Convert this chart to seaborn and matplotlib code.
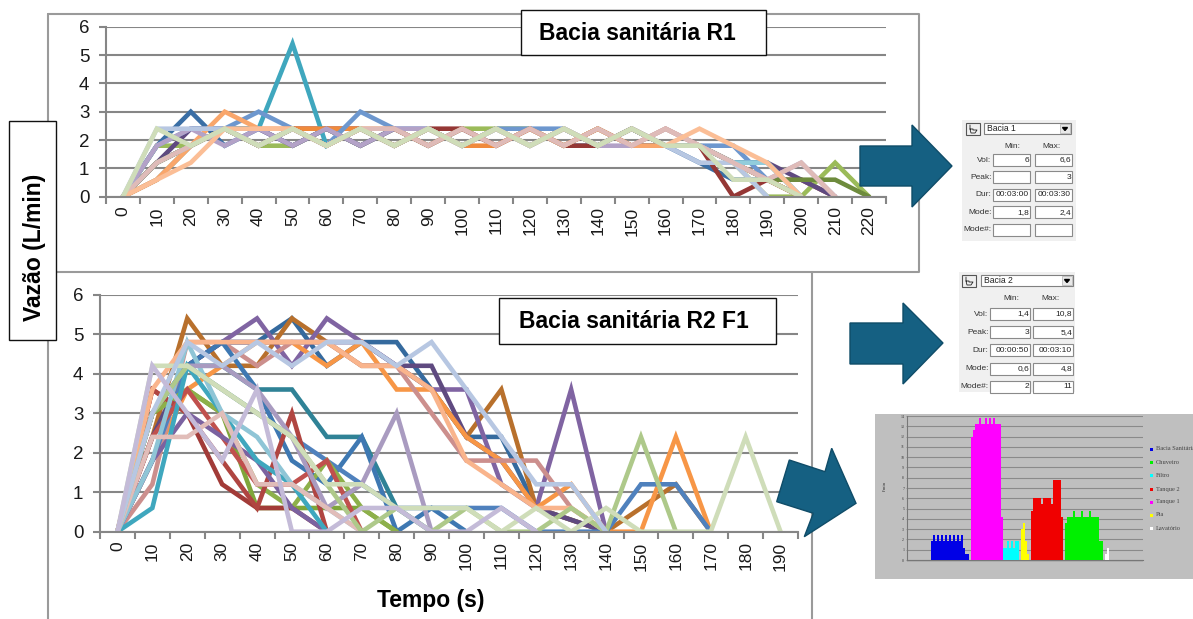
import matplotlib
matplotlib.use("Agg")
import matplotlib.pyplot as plt
from matplotlib.patches import Polygon, Rectangle
from matplotlib.ticker import FixedLocator, NullFormatter
import pandas as pd
import seaborn as sns

W, H = 1193, 619
sns.set_theme(style="white")
plt.rcParams['font.family'] = ['Liberation Sans', 'DejaVu Sans']

# ---------- Bacia sanitaria R1 ----------
r1_time = list(range(0, 230, 10))
r1_a = [0,1.8,3,1.8,2.4,1.8,2.4,1.8,2.4,1.8,2.4,1.8,2.4,1.8,1.8,2.4,1.8,1.2,0.6,0.6,0]
r1_b = [0,1.2,1.8,2.4,1.8,2.4,2.4,2.4,1.8,2.4,2.4,1.8,2.4,1.8,1.8,2.4,1.8,1.8,0,0.6,0.6,0]
r1_c = [0,1.8,1.8,2.4,1.8,1.8,2.4,1.8,2.4,1.8,2.4,2.4,2.4,1.8,2.4,1.8,1.8,1.8,1.2,0,0,1.2,0]
r1_d = [0,1.2,2.4,2.4,2.4,1.8,2.4,1.8,2.4,1.8,2.4,1.8,2.4,1.8,2.4,1.8,1.8,1.8,1.2,1.2,0.6,0]
r1_e = [0,0.6,1.8,2.4,2.4,5.4,1.8,2.4,1.8,2.4,1.8,2.4,1.8,2.4,1.8,2.4,1.8,1.8,1.2,1.2,0]
r1_f = [0,0.6,1.8,2.4,1.8,2.4,2.4,2.4,1.8,2.4,1.8,1.8,2.4,1.8,2.4,1.8,2.4,1.8,1.2,0.6,0]
r1_g = [0,1.2,1.8,2.4,1.8,2.4,1.8,2.4,1.8,2.4,1.8,2.4,1.8,2.4,1.8,2.4,1.8,1.8,1.2,0.6,0]
r1_h = [0,1.2,1.8,2.4,1.8,2.4,1.8,2.4,1.8,2.4,1.8,2.4,1.8,2.4,1.8,2.4,1.8,1.8,1.2,0.6,0.6,0.6,0]
r1_i = [0,1.8,2.4,2.4,3,2.4,1.8,3,2.4,2.4,1.8,2.4,2.4,2.4,1.8,2.4,1.8,1.8,1.8,0.6,0]
r1_j = [0,0.6,1.8,3,2.4,2.4,1.8,2.4,2.4,1.8,2.4,1.8,2.4,1.8,2.4,1.8,1.8,1.8,1.2,0.6,0]
r1_k = [0,1.8,2.4,1.8,2.4,1.8,2.4,1.8,2.4,2.4,1.8,2.4,1.8,2.4,1.8,1.8,2.4,1.8,1.2,0.6,1.2,0]
r1_l = [0,2.4,2.4,2.4,1.8,2.4,1.8,2.4,1.8,2.4,1.8,2.4,1.8,2.4,1.8,2.4,1.8,1.2,1.2,0]
r1_m = [0,1.2,1.8,2.4,1.8,2.4,1.8,2.4,1.8,2.4,1.8,2.4,1.8,2.4,1.8,2.4,1.8,1.8,1.2,1.2,0]
r1_n = [0,1.2,1.8,2.4,1.8,2.4,1.8,2.4,2.4,1.8,2.4,1.8,2.4,1.8,2.4,1.8,2.4,1.8,1.2,0.6,1.2,0]
r1_o = [0,0.6,1.2,2.4,2.4,2.4,1.8,2.4,1.8,2.4,1.8,2.4,1.8,2.4,1.8,2.4,1.8,2.4,1.8,1.2,0]
r1_p = [0,2.4,1.8,2.4,1.8,2.4,1.8,2.4,1.8,2.4,1.8,2.4,1.8,2.4,1.8,2.4,1.8,1.8,0.6,0.6,0]
r1_series = [r1_a, r1_b, r1_c, r1_d, r1_e, r1_f, r1_g, r1_h, r1_i, r1_j, r1_k, r1_l, r1_m, r1_n, r1_o, r1_p]
r1_colors = ['#3A6EA5', '#953735', '#9BBB59', '#5F4A80', '#3FA7BE', '#F08A3C', '#B8702C', '#6E8B3D',
             '#6D97CE', '#F9A66B', '#B3A2C7', '#B7C7E2', '#92CDDC', '#DFBBB8', '#FBBE96', '#CFDDB9']

# ---------- Bacia sanitaria R2 F1 ----------
r2_time = list(range(0, 200, 10))
r2_a = [0,3,4.2,4.8,4.8,5.4,4.2,4.8,4.8,3.6,2.4,2.4,0.6,0.3,0]
r2_b = [0,2.4,5.4,4.2,4.2,5.4,4.8,4.2,4.2,3.6,2.4,3.6,0.6,0.3,0,0.6,1.2,0]
r2_c = [0,1.8,4.2,4.8,5.4,4.2,5.4,4.8,4.2,3.6,3.6,1.2,0.6,3.6,0]
r2_d = [0,2.4,4.2,4.8,4.8,4.8,4.8,4.8,4.2,4.2,2.4,1.8,0.6,0.3,0]
r2_e = [0,1.8,3.6,4.2,4.8,4.8,4.2,4.8,3.6,3.6,2.4,1.8,0.6,1.2,0,0,2.4,0]
r2_f = [0,1.2,4.8,4.8,4.2,4.8,4.8,4.2,4.2,3,1.8,1.8,1.8,0.6,0]
r2_g = [0,3,4.2,4.2,3.6,3.6,2.4,2.4,0.6,0]
r2_h = [0,3,4.2,4.8,3.6,1.8,1.2,2.4,0,0.6,0]
r2_i = [0,1.8,4.2,3.6,3,2.4,1.8,1.2,0.6,0.6,0.6,0.6,0,0,0,1.2,1.2,0]
r2_j = [0,3,3.6,3,0.6,0.6,0.6,0.6,0]
r2_k = [0,3,3.6,3,1.2,0.6,1.8,0.6,0]
r2_l = [0,3.6,3,1.2,0.6,0.6,0]
r2_m = [0,3.6,3,1.8,0.6,3,0]
r2_n = [0,2.4,3.6,2.4,1.2,1.2,1.8,0]
r2_o = [0,1.8,3,2.4,1.8,0.6,0]
r2_p = [0,0.6,4.2,3,1.8,1.2,0]
r2_q = [0,1.8,4.8,3,2.4,1.2,0.6,0]
r2_r = [0,3,4.2,4.2,3.6,2.4,0.6,1.2,3,0]
r2_s = [0,3.6,4.8,4.8,4.8,4.8,4.8,4.2,4.2,3.6,1.8,1.2,0.6,0.6,0]
r2_t = [0,2.4,2.4,3,1.2,1.2,0.6,0]
r2_u = [0,3,4.2,3.6,3,2.4,1.2,0,0.6,0,0.6,0,0,0.6,0,2.4,0]
r2_v = [0,4.2,4.2,3.6,3,2.4,1.2,1.2,0.6,0.6,0.6,0,0.6,0,0.6,0,0,0,2.4,0]
r2_w = [0,3,4.8,4.2,4.8,4.2,4.8,4.8,4.2,4.8,3.6,2.4,1.2,1.2,0]
r2_x = [0,4.2,3,1.8,3.6,0,0,0.6,0.6,0,0,0.6,0]
r2_series = [r2_a, r2_b, r2_c, r2_d, r2_e, r2_f, r2_g, r2_h, r2_i, r2_j, r2_k, r2_l, r2_m, r2_n, r2_o,
             r2_p, r2_q, r2_r, r2_s, r2_t, r2_u, r2_v, r2_w, r2_x]
r2_colors = ['#356A9E', '#B8702C', '#8064A2', '#5F4A80', '#F79646', '#CC8F8D', '#2F8296', '#3E78B2',
             '#4F81BD', '#7FA63A', '#8DB04A', '#A23B38', '#B04541', '#C0504D', '#7B62A0', '#3FA7BE',
             '#8FC5D6', '#A99BC0', '#F9B48C', '#E1BDB9', '#AEC98A', '#CFDDB9', '#B7C7E2', '#C4BBD8']

# ---------- Dialog panels ----------
dlg_rows = ['Vol:', 'Peak:', 'Dur:', 'Mode:', 'Mode#:']
dlg1_min = ['6', '', '00:03:00', '1,8', '']
dlg1_max = ['6,6', '3', '00:03:30', '2,4', '']
dlg2_min = ['1,4', '3', '00:00:50', '0,6', '2']
dlg2_max = ['10,8', '5,4', '00:03:10', '4,8', '11']

# ---------- Fixture bar panel ----------
fixtures = ['Bacia Sanitária', 'Chuveiro', 'Filtro', 'Tanque 2', 'Tanque 1', 'Pia', 'Lavatório']
fixture_colors = ['#0000E6', '#00F000', '#00FFFF', '#F00000', '#FF00FF', '#FFFF00', '#FFFFFF']
bar_blue = [1.8,2.4,1.8,2.4,1.8,2.4,1.8,2.4,1.8,2.4,1.8,2.4,1.8,2.4,1.8,2.4,1.2,0.6,0.6]
bar_green = [3.6,4.2,4.2,4.2,4.8,4.2,4.2,4.2,4.8,4.2,4.2,4.2,4.8,4.2,4.2,4.2,4.2,1.8,1.8]
bar_cyan = [1.2,1.2,1.8,1.2,1.8,1.2,1.8,1.8]
bar_red = [4.8,6,6,6,6,5.4,6,6,6,6,5.4,7.8,7.8,7.8,7.8,4.2]
bar_magenta = [12,12.6,13.2,13.2,13.8,13.2,13.2,13.8,13.2,13.8,13.2,13.8,13.2,13.2,13.2,4.2]
bar_yellow = [3,3.6,1.8,0.6]
bar_white = [0.6,1.2]
bar_values = [bar_blue, bar_green, bar_cyan, bar_red, bar_magenta, bar_yellow, bar_white]
bar_starts = [12, 79, 48, 62, 32, 57, 99]


def to_long(time, series):
    rows = []
    for i, vals in enumerate(series):
        for t, v in zip(time, vals):
            rows.append({'t': t, 'v': v, 's': f's{i:02d}'})
    return pd.DataFrame(rows)


def axes_px(fig, x0, x1, ytop, ybot):
    return fig.add_axes([x0 / W, 1 - ybot / H, (x1 - x0) / W, (ybot - ytop) / H])


def line_panel(ax, time, series, colors):
    df = to_long(time, series)
    names = [f's{i:02d}' for i in range(len(series))]
    sns.lineplot(data=df, x='t', y='v', hue='s', hue_order=names, palette=dict(zip(names, colors)),
                 estimator=None, sort=False, linewidth=3.3, legend=False, ax=ax, clip_on=True)
    for ln in ax.get_lines():
        ln.set_solid_joinstyle('miter')
    ax.set_xlim(time[0] - 5, time[-1] + 5)
    ax.set_ylim(0, 6)
    ax.set_xlabel('')
    ax.set_ylabel('')
    for s in ('top', 'right'):
        ax.spines[s].set_visible(False)
    for s in ('left', 'bottom'):
        ax.spines[s].set_color('#868686')
        ax.spines[s].set_linewidth(1.5)
    ax.set_yticks(range(0, 7))
    ax.yaxis.grid(True, color='#868686', lw=1.5)
    ax.set_axisbelow(True)
    ax.tick_params(axis='y', length=5, width=1.5, color='#868686', labelsize=13.5, pad=7, left=True,
                   labelcolor='#1a1a1a')
    ax.xaxis.set_major_locator(FixedLocator([t - 5 for t in time] + [time[-1] + 5]))
    ax.xaxis.set_major_formatter(NullFormatter())
    ax.xaxis.set_minor_locator(FixedLocator(time))
    ax.set_xticklabels([str(t) for t in time], minor=True, rotation=90, fontsize=12.5, color='#1a1a1a')
    ax.tick_params(axis='x', which='major', length=5, width=1.5, color='#868686', bottom=True)
    ax.tick_params(axis='x', which='minor', length=0, pad=7, bottom=True)
    ax.patch.set_alpha(0)


fig = plt.figure(figsize=(W / 100, H / 100), dpi=100, facecolor='white')

# background frames
bg = fig.add_axes([0, 0, 1, 1], zorder=0)
bg.set_xlim(0, W); bg.set_ylim(H, 0); bg.axis('off')
frame = dict(color='#9a9a9a', lw=1.5)
bg.plot([48, 919, 919, 48, 48], [14, 14, 272, 272, 14], **frame)
bg.plot([48, 48], [272, 619], **frame)
bg.plot([812, 812], [272, 619], **frame)

ax1 = axes_px(fig, 106, 886, 26.7, 196.7)
ax1.set_zorder(1)
line_panel(ax1, r1_time, r1_series, r1_colors)
ax2 = axes_px(fig, 100, 798, 294.7, 531.7)
ax2.set_zorder(1)
line_panel(ax2, r2_time, r2_series, r2_colors)

# fixture bars
ax3_panel = fig.add_axes([875 / W, 1 - 579 / H, 318 / W, 165 / H], zorder=2, facecolor='#BFBFBF')
ax3_panel.set_xticks([]); ax3_panel.set_yticks([])
for s in ax3_panel.spines.values():
    s.set_visible(False)
ax3 = axes_px(fig, 907, 1143, 416, 560)
ax3.set_zorder(3)
rows = []
for name, start, vals in zip(fixtures, bar_starts, bar_values):
    for k, v in enumerate(vals):
        rows.append({'pos': start + k, 'v': v, 'f': name})
bar_df = pd.DataFrame(rows)
sns.barplot(data=bar_df, x='pos', y='v', hue='f', order=list(range(118)), hue_order=fixtures,
            palette=dict(zip(fixtures, fixture_colors)), dodge=False, width=1.0, errorbar=None,
            saturation=1, legend=False, ax=ax3, linewidth=0, zorder=3)
ax3.set_xlim(-0.5, 117.5); ax3.set_ylim(0, 14)
ax3.set_xlabel(''); ax3.set_ylabel('')
ax3.patch.set_alpha(0)
ax3.set_yticks(range(0, 15))
ax3.set_yticklabels([str(i) for i in range(15)], fontsize=2.8, family='Liberation Serif', color='#333333')
ax3.yaxis.grid(True, color='#8a8a8a', lw=0.8)
ax3.set_axisbelow(True)
ax3.set_xticks(range(118))
ax3.set_xticklabels([])
ax3.tick_params(axis='x', length=1.5, width=0.3, color='#777777', bottom=True)
ax3.tick_params(axis='y', length=1, width=0.4, color='#777777', pad=1, left=True)
for s in ('top', 'right'):
    ax3.spines[s].set_visible(False)
for s in ('left', 'bottom'):
    ax3.spines[s].set_color('#777777'); ax3.spines[s].set_linewidth(0.8)

# overlay of boxes, arrows, dialogs
ov = fig.add_axes([0, 0, 1, 1], zorder=5)
ov.set_xlim(0, W); ov.set_ylim(H, 0); ov.axis('off'); ov.patch.set_alpha(0)


def box(x0, y0, x1, y1, **kw):
    ov.add_patch(Rectangle((x0, y0), x1 - x0, y1 - y0, **kw))


edge = dict(facecolor='white', edgecolor='#111111', lw=1.0)
box(521, 10, 766, 55, **edge)
ov.text(637.5, 33, 'Bacia sanitária R1', fontsize=16.5, fontweight='bold', ha='center', va='center', color='black')
box(499, 298, 776, 344, **edge)
ov.text(633.5, 321, 'Bacia sanitária R2 F1', fontsize=16.5, fontweight='bold', ha='center', va='center', color='black')
box(9, 121, 56, 340, **edge)
ov.text(35, 247, 'Vazão (L/min)', fontsize=16.5, fontweight='bold', rotation=90, ha='center', va='center', color='black')
ov.text(431, 600, 'Tempo (s)', fontsize=16.5, fontweight='bold', ha='center', va='center', color='black')

arrow_style = dict(facecolor='#156082', edgecolor='#0F4C68', lw=1.0, closed=True)
ov.add_patch(Polygon([(860, 146), (912, 146), (912, 125), (952, 166), (912, 207), (912, 186), (860, 186)], **arrow_style))
ov.add_patch(Polygon([(850, 323), (903, 323), (903, 303), (943, 343), (903, 384), (903, 364), (850, 364)], **arrow_style))
ov.add_patch(Polygon([(789.3, 460), (825, 471.7), (831.7, 448.3), (856, 503.3), (804.3, 536.7), (813.3, 513.3), (776.7, 501.7)], **arrow_style))


def dialog(x0, y0, x1, y1, title, vmin, vmax, icon_x, combo_x, combo_r, min_x, max_x, col_w, head_y, first_y, step):
    box(x0, y0, x1, y1, facecolor='#F0F0F0', edgecolor='none')
    # icon button with a small toilet glyph
    box(icon_x, y0 + 3, icon_x + 14, y0 + 15, facecolor='#F0F0F0', edgecolor='#555555', lw=0.8)
    ov.plot([icon_x + 4, icon_x + 4, icon_x + 7, icon_x + 7, icon_x + 11, icon_x + 9, icon_x + 5, icon_x + 4],
            [y0 + 5, y0 + 9, y0 + 9, y0 + 10, y0 + 10, y0 + 13, y0 + 13, y0 + 9], color='#222222', lw=0.6)
    # combo box
    box(combo_x, y0 + 3, combo_r, y0 + 14, facecolor='white', edgecolor='#808080', lw=0.8)
    ov.text(combo_x + 3, y0 + 8.5, title, fontsize=6.2, ha='left', va='center', color='#222222')
    box(combo_r - 11, y0 + 4, combo_r - 1, y0 + 13, facecolor='#E8E8E8', edgecolor='#B0B0B0', lw=0.5)
    ov.add_patch(Polygon([(combo_r - 8.5, y0 + 7.5), (combo_r - 3.5, y0 + 7.5), (combo_r - 6, y0 + 10.5)],
                         closed=True, color='black'))
    ov.text(min_x + col_w / 2 + 1, head_y, 'Min:', fontsize=6, ha='center', va='center', color='#333333')
    ov.text(max_x + col_w / 2 - 2, head_y, 'Max:', fontsize=6, ha='center', va='center', color='#333333')
    for i, label in enumerate(dlg_rows):
        y = first_y + i * step
        ov.text(min_x - 1.5, y, label, fontsize=6, ha='right', va='center', color='#333333')
        for cx, val in ((min_x, vmin[i]), (max_x, vmax[i])):
            box(cx, y - 6, cx + col_w, y + 6, facecolor='white', edgecolor='#8a8a8a', lw=0.8)
            ov.text(cx + col_w - 1, y, val, fontsize=6, ha='right', va='center', color='#222222')


dialog(962, 120, 1076, 241, 'Bacia 1', dlg1_min, dlg1_max, 966, 984, 1071, 993, 1035, 37, 147, 160, 17.4)
dialog(959, 272, 1075, 392, 'Bacia 2', dlg2_min, dlg2_max, 962, 981, 1073, 990, 1033, 40, 298, 314, 18.2)

# fixture legend
legend_ys = [449, 462.5, 475.5, 489, 502, 515, 528.5]
for name, col, y in zip(fixtures, fixture_colors, legend_ys):
    box(1150, y - 1.5, 1152.5, y + 1.5, facecolor=col, edgecolor='none')
    ov.text(1156, y, name, fontsize=4.6, family='Liberation Serif', ha='left', va='center', color='#444444')
ov.text(885, 486, 'l/min', fontsize=3.4, family='Liberation Serif', rotation=90, ha='center', va='center', color='#333333')

fig.savefig('out.png', dpi=100)
